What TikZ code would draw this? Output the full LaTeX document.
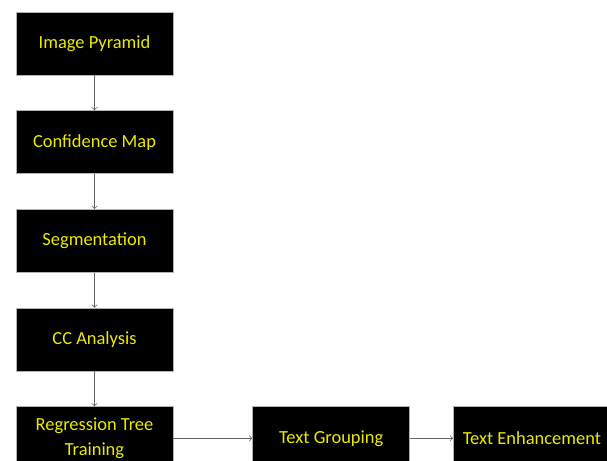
\documentclass[tikz,border=0pt]{standalone}
\usepackage{fontspec}
\setmainfont{Carlito}
\usetikzlibrary{positioning}
\definecolor{boxtext}{RGB}{235,235,0}
\definecolor{linkgray}{RGB}{100,100,100}
\begin{document}
\begin{tikzpicture}[>=to, font=\fontsize{10.5}{14.5}\selectfont, line join=round,
	stepbox/.style={fill=black, draw=gray!60, text=boxtext, minimum width=3.14cm, minimum height=1.26cm, align=center, inner sep=1pt},
	link/.style={->, draw=linkgray, thin}]
			\def\W{12.14} \def\H{9.22} % khung
			\useasboundingbox (0,0) rectangle (\W,-\H);
			\clip (0,0) rectangle (\W,-\H);
			\node[stepbox] (pyr) at (1.89,-0.87) {Image Pyramid};
			\node[stepbox, below=0.7cm of pyr] (conf) {Confidence Map};
			\node[stepbox, below=0.7cm of conf] (seg) {Segmentation};
			\node[stepbox, below=0.7cm of seg] (cca) {CC Analysis};
			\node[stepbox, below=0.7cm of cca] (reg) {Regression Tree\\Training};
			\node[stepbox, right=1.58cm of reg] (grp) {Text Grouping};
			\node[stepbox, right=0.86cm of grp] (enh) {Text Enhancement};
			\draw[link] (pyr)--(conf);
			\draw[link] (conf)--(seg);
			\draw[link] (seg)--(cca);
			\draw[link] (cca)--(reg);
			\draw[link] (reg)--(grp);
			\draw[link] (grp)--(enh);
		\end{tikzpicture}
\end{document}
